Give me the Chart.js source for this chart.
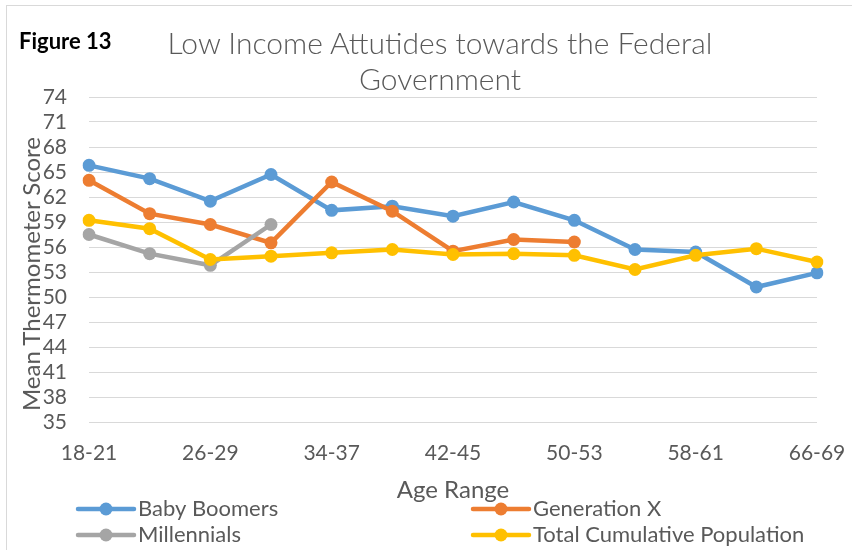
<!DOCTYPE html>
<html>
<head>
<meta charset="utf-8">
<script src="https://cdn.jsdelivr.net/npm/chart.js@4"></script>
<style>
    body { margin: 0; background: #fff; }
    #wrap { position: relative; width: 852px; height: 550px; overflow: hidden; font-family: Lato, sans-serif; }
    #frame { position: absolute; left: 6px; top: 5px; width: 900px; height: 600px; border: 1px solid #d9d9d9; }
    #fig { position: absolute; left: 19px; top: 28px; font-weight: bold; font-size: 22px; line-height: 26px; color: #000; }
    #title { position: absolute; left: 140px; width: 600px; top: 24px; text-align: center;
             font-weight: 300; font-size: 30px; line-height: 36px; color: #595959; }
    #ytitle { position: absolute; left: 31px; top: 274px; width: 320px; margin-left: -160px; margin-top: -15px;
              text-align: center; font-size: 24px; line-height: 30px; color: #595959; transform: rotate(-90deg); }
    canvas { position: absolute; left: 0; top: 0; }
</style>
</head>
<body>
<div id="wrap">
    <div id="frame"></div>
    <canvas id="myChart" width="852" height="550"></canvas>
    <div id="fig">Figure 13</div>
    <div id="title">Low Income Attutides towards the Federal<br>Government</div>
    <div id="ytitle">Mean Thermometer Score</div>
</div>
<script>
const labels = ['18-21', '22-25', '26-29', '30-33', '34-37', '38-41', '42-45', '46-49', '50-53', '54-57', '58-61', '62-65', '66-69'];

const babyBoomers = [65.8, 64.2, 61.5, 64.7, 60.4, 60.9, 59.7, 61.4, 59.2, 55.7, 55.4, 51.2, 52.9];
const generationX = [64.0, 60.0, 58.7, 56.5, 63.8, 60.3, 55.5, 56.9, 56.6];
const millennials = [57.5, 55.2, 53.8, 58.7];
const totalPopulation = [59.2, 58.2, 54.5, 54.9, 55.3, 55.7, 55.1, 55.2, 55.0, 53.3, 55.0, 55.8, 54.2];

const yMin = 35;
const yMax = 74;
const yStep = 3;

const textColor = '#595959';
const fontFamily = 'Lato, sans-serif';

function series(label, color, values, order) {
    return {
        label: label,
        data: values,
        borderColor: color,
        backgroundColor: color,
        borderWidth: 4.5,
        pointRadius: 6.5,
        pointHoverRadius: 6.5,
        pointBorderWidth: 0,
        tension: 0,
        order: order
    };
}

const data = {
    labels: labels,
    datasets: [
        series('Baby Boomers', '#5b9bd5', babyBoomers, 4),
        series('Generation X', '#ed7d31', generationX, 3),
        series('Millennials', '#a5a5a5', millennials, 2),
        series('Total Cumulative Population', '#ffc000', totalPopulation, 1)
    ]
};

// two-column legend like the original, drawn under the axis title
const legendCols = [78, 473];
const legendRows = [509, 535];

const legendPlugin = {
    id: 'twoColLegend',
    afterDraw(chart) {
        const ctx = chart.ctx;
        ctx.save();
        ctx.font = '22px ' + fontFamily;
        ctx.textBaseline = 'middle';
        ctx.textAlign = 'left';
        chart.data.datasets.forEach((ds, i) => {
            const x = legendCols[i % 2];
            const y = legendRows[Math.floor(i / 2)];
            ctx.strokeStyle = ds.borderColor;
            ctx.lineWidth = 4.5;
            ctx.lineCap = 'round';
            ctx.beginPath();
            ctx.moveTo(x, y);
            ctx.lineTo(x + 56, y);
            ctx.stroke();
            ctx.fillStyle = ds.borderColor;
            ctx.beginPath();
            ctx.arc(x + 28, y, 6.5, 0, Math.PI * 2);
            ctx.fill();
            ctx.fillStyle = textColor;
            ctx.fillText(ds.label, x + 60, y);
        });
        ctx.restore();
    }
};

const config = {
    type: 'line',
    data: data,
    plugins: [legendPlugin],
    options: {
        responsive: false,
        devicePixelRatio: 1,
        animation: false,
        layout: {
            padding: { left: 6, right: 35, top: 97, bottom: 0 }
        },
        plugins: {
            legend: { display: false },
            tooltip: { enabled: false },
            title: { display: false }
        },
        scales: {
            x: {
                offset: false,
                grid: { display: false, drawTicks: false },
                border: { display: false },
                afterFit: (scale) => {
                    scale.height = 128;
                    scale.paddingLeft = 30;
                    scale.paddingRight = 30;
                },
                ticks: {
                    autoSkip: false,
                    maxRotation: 0,
                    color: textColor,
                    padding: 19,
                    font: { family: fontFamily, size: 21 },
                    callback: function (value, index) {
                        return index % 2 === 0 ? labels[index] : '';
                    }
                },
                title: {
                    display: true,
                    text: 'Age Range',
                    color: textColor,
                    font: { family: fontFamily, size: 24 },
                    padding: { top: 0, bottom: 45 }
                }
            },
            y: {
                min: yMin,
                max: yMax,
                grid: { color: '#d9d9d9', lineWidth: 1, drawTicks: false },
                border: { display: false },
                afterFit: (scale) => { scale.width = 83; },
                ticks: {
                    stepSize: yStep,
                    autoSkip: false,
                    color: textColor,
                    padding: 22,
                    font: { family: fontFamily, size: 21 }
                }
            }
        }
    }
};

let myChart = new Chart(
    document.getElementById('myChart'),
    config
);
</script>
</body>
</html>
